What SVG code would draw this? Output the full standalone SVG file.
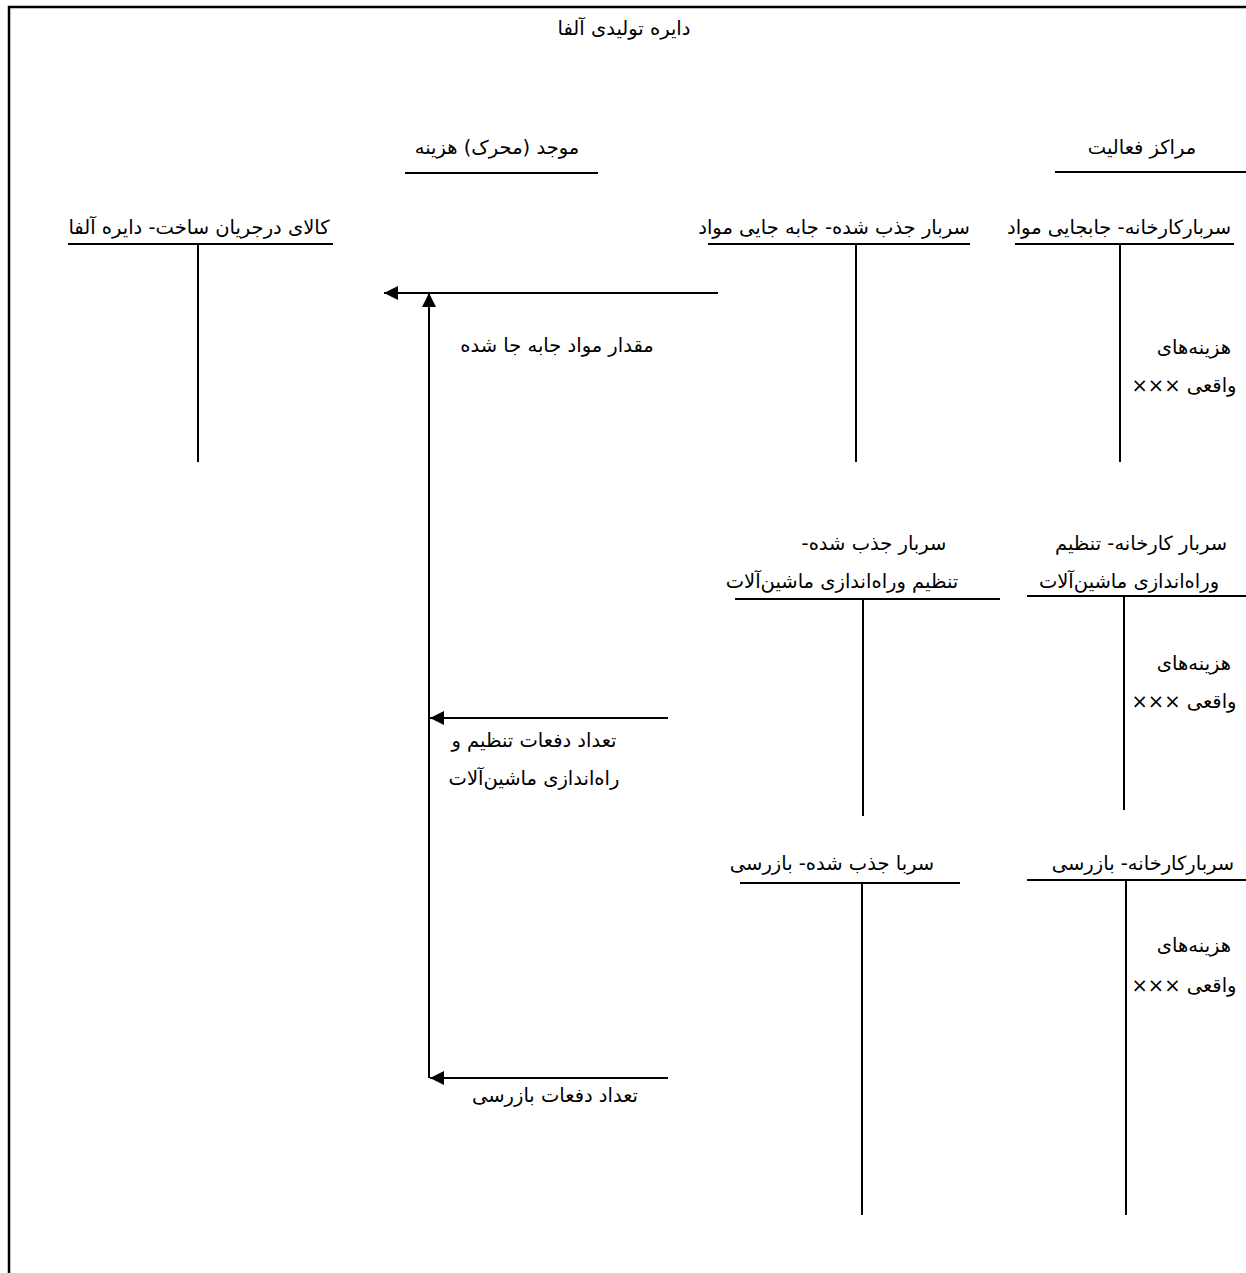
<svg xmlns="http://www.w3.org/2000/svg" width="1246" height="1273" viewBox="0 0 1246 1273">
<style>
text{font-family:"DejaVu Sans","Noto Sans",sans-serif;font-size:19.5px;fill:#000;text-anchor:middle;direction:rtl;unicode-bidi:embed}
.ln{stroke:#000;stroke-width:2;fill:none}
.bd{stroke:#000;stroke-width:2.5;fill:none}
</style>
<defs>
<marker id="ah" markerWidth="14" markerHeight="14" refX="14" refY="7" orient="auto" markerUnits="userSpaceOnUse">
<path d="M0,0 L14,7 L0,14 Z" fill="#000"/>
</marker>
</defs>
<rect width="1246" height="1273" fill="#fff"/>
<path class="bd" d="M9,1273 V7 H1246"/>
<g id="title"><text x="624" y="35">دایره تولیدی آلفا</text></g>
<g id="header-activity"><text x="1142" y="154">مراکز فعالیت</text><line class="ln" x1="1055" y1="172" x2="1246" y2="172"/></g>
<g id="header-driver"><text x="497" y="154">موجد (محرک) هزینه</text><line class="ln" x1="405" y1="173" x2="598" y2="173"/></g>
<g id="wip"><text x="199" y="234">کالای درجریان ساخت- دایره آلفا</text><line class="ln" x1="68" y1="244" x2="333" y2="244"/><line class="ln" x1="198" y1="244" x2="198" y2="462"/></g>
<g id="applied-handling"><text x="834" y="234">سربار جذب شده- جابه جایی مواد</text><line class="ln" x1="708" y1="244" x2="970" y2="244"/><line class="ln" x1="856" y1="244" x2="856" y2="462"/></g>
<g id="factory-handling"><text x="1119" y="234">سربارکارخانه- جابجایی مواد</text><line class="ln" x1="1015" y1="244" x2="1234" y2="244"/><line class="ln" x1="1120" y1="244" x2="1120" y2="462"/><text x="1194" y="354">هزینه&#x200C;های</text><text x="1184" y="392">واقعی ×××</text></g>
<g id="applied-setup"><text x="874" y="550">سربار جذب شده-</text><text x="842" y="588">تنظیم وراه&#x200C;اندازی ماشین&#x200C;آلات</text><line class="ln" x1="735" y1="599" x2="1000" y2="599"/><line class="ln" x1="863" y1="599" x2="863" y2="816"/></g>
<g id="factory-setup"><text x="1141" y="550">سربار کارخانه- تنظیم</text><text x="1129" y="588">وراه&#x200C;اندازی ماشین&#x200C;آلات</text><line class="ln" x1="1027" y1="596" x2="1246" y2="596"/><line class="ln" x1="1124" y1="596" x2="1124" y2="810"/><text x="1194" y="670">هزینه&#x200C;های</text><text x="1184" y="708">واقعی ×××</text></g>
<g id="applied-inspection"><text x="832" y="870">سربا جذب شده- بازرسی</text><line class="ln" x1="740" y1="883" x2="960" y2="883"/><line class="ln" x1="862" y1="883" x2="862" y2="1215"/></g>
<g id="factory-inspection"><text x="1143" y="870">سربارکارخانه- بازرسی</text><line class="ln" x1="1027" y1="880" x2="1246" y2="880"/><line class="ln" x1="1126" y1="880" x2="1126" y2="1215"/><text x="1194" y="952">هزینه&#x200C;های</text><text x="1184" y="992">واقعی ×××</text></g>
<g id="connectors">
<line class="ln" x1="718" y1="293" x2="384" y2="293" marker-end="url(#ah)"/>
<line class="ln" x1="429" y1="1078" x2="429" y2="293" marker-end="url(#ah)"/>
<line class="ln" x1="668" y1="718" x2="430" y2="718" marker-end="url(#ah)"/>
<line class="ln" x1="668" y1="1078" x2="430" y2="1078" marker-end="url(#ah)"/>
</g>
<g id="labels">
<text x="557" y="352">مقدار مواد جابه جا شده</text>
<text x="534" y="747">تعداد دفعات تنظیم و</text>
<text x="534" y="785">راه&#x200C;اندازی ماشین&#x200C;آلات</text>
<text x="555" y="1102">تعداد دفعات بازرسی</text>
</g>
</svg>
